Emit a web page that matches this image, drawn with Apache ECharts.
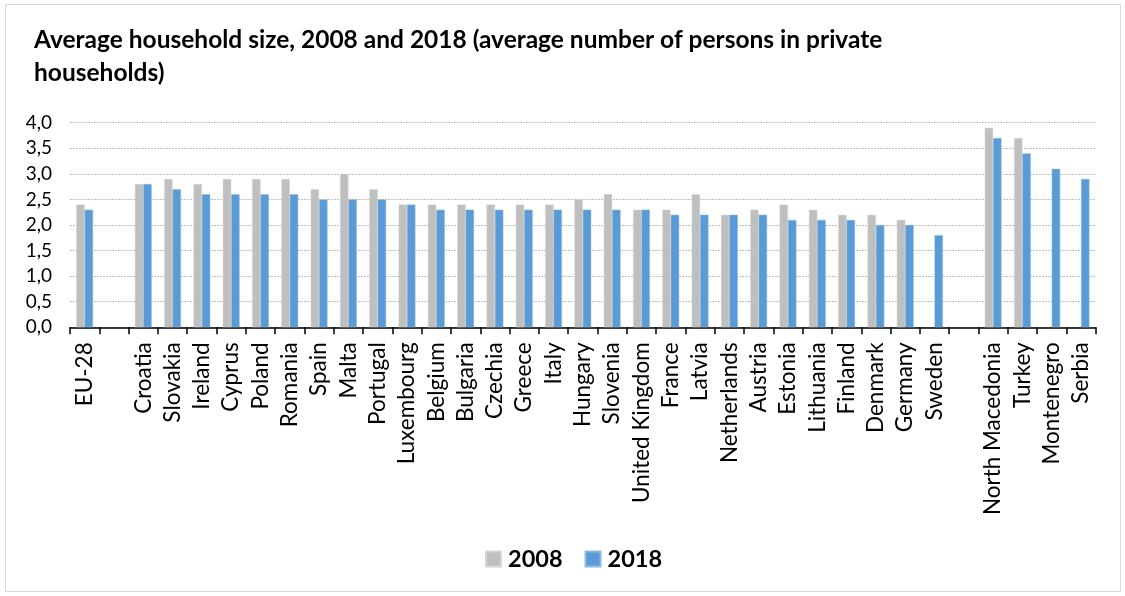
<!DOCTYPE html>
<html>
<head>
<meta charset="utf-8">
<script src="https://cdn.jsdelivr.net/npm/echarts@6/dist/echarts.min.js"></script>
<style>
html,body{margin:0;padding:0;background:#fff;}
#chart{width:1125px;height:596px;}
</style>
</head>
<body>
<div id="chart"></div>
<script>
const categories = ['EU-28','', 'Croatia','Slovakia','Ireland','Cyprus','Poland','Romania','Spain','Malta','Portugal','Luxembourg','Belgium','Bulgaria','Czechia','Greece','Italy','Hungary','Slovenia','United Kingdom','France','Latvia','Netherlands','Austria','Estonia','Lithuania','Finland','Denmark','Germany','Sweden','', 'North Macedonia','Turkey','Montenegro','Serbia'];
const values2008 = [2.4,null, 2.8,2.9,2.8,2.9,2.9,2.9,2.7,3.0,2.7,2.4,2.4,2.4,2.4,2.4,2.4,2.5,2.6,2.3,2.3,2.6,2.2,2.3,2.4,2.3,2.2,2.2,2.1,null,null, 3.9,3.7,null,null];
const values2018 = [2.3,null, 2.8,2.7,2.6,2.6,2.6,2.6,2.5,2.5,2.5,2.4,2.3,2.3,2.3,2.3,2.3,2.3,2.3,2.3,2.2,2.2,2.2,2.2,2.1,2.1,2.1,2.0,2.0,1.8,null, 3.7,3.4,3.1,2.9];
const seriesNames = ['2008','2018'];
const yTicks = {min: 0, max: 4, interval: 0.5};

const chart = echarts.init(document.getElementById('chart'), null, {renderer:'canvas'});
const FONT = 'Lato';
chart.setOption({
  animation: false,
  backgroundColor: '#ffffff',
  title: {
    text: 'Average household size, 2008 and 2018 (average number of persons in private\nhouseholds)',
    left: 29, top: 19,
    textStyle: {fontFamily: FONT, fontWeight: 'bold', fontSize: 24.5, color: '#000', lineHeight: 33}
  },
  legend: {
    data: seriesNames,
    left: 485, top: 547, padding: 0,
    itemWidth: 15, itemHeight: 15, itemGap: 22,
    icon: 'rect',
    textStyle: {fontFamily: FONT, fontWeight: 'bold', fontSize: 23.5, color: '#000', padding: [0,0,0,2]}
  },
  grid: {left: 70, right: 29.3, top: 122.7, bottom: 268.7, containLabel: false},
  xAxis: {
    type: 'category',
    data: categories,
    boundaryGap: true,
    axisLine: {lineStyle: {color: '#000', width: 1.5}},
    axisTick: {show: true, alignWithLabel: false, length: 7, interval: 0, lineStyle: {color: '#000', width: 1.5}},
    axisLabel: {interval: 0, rotate: 90, margin: 15, fontFamily: FONT, fontSize: 22.5, color: '#000'}
  },
  yAxis: {
    type: 'value',
    min: yTicks.min, max: yTicks.max, interval: yTicks.interval,
    axisLine: {show: false},
    axisTick: {show: false},
    axisLabel: {margin: 18, fontFamily: FONT, fontSize: 19, color: '#000',
      formatter: v => v.toFixed(1).replace('.', ',')},
    splitLine: {show: true, lineStyle: {color: '#BFBFBF', type: [2,1], width: 1}}
  },
  series: [
    {name: seriesNames[0], type: 'bar', data: values2008, barWidth: 8.4, barGap: '0%',
     itemStyle: {color: '#BFBFBF', borderColor: '#D6D6D6', borderWidth: 0.5}},
    {name: seriesNames[1], type: 'bar', data: values2018, barWidth: 8.4, barGap: '0%',
     itemStyle: {color: '#5B9BD5', borderColor: '#8DBAE3', borderWidth: 0.5}}
  ],
  graphic: [{
    type: 'rect', shape: {x: 5.5, y: 4.5, width: 1115, height: 587},
    style: {fill: 'none', stroke: '#D9D9D9', lineWidth: 1}, silent: true, z: -1
  }]
});
</script>
</body>
</html>
